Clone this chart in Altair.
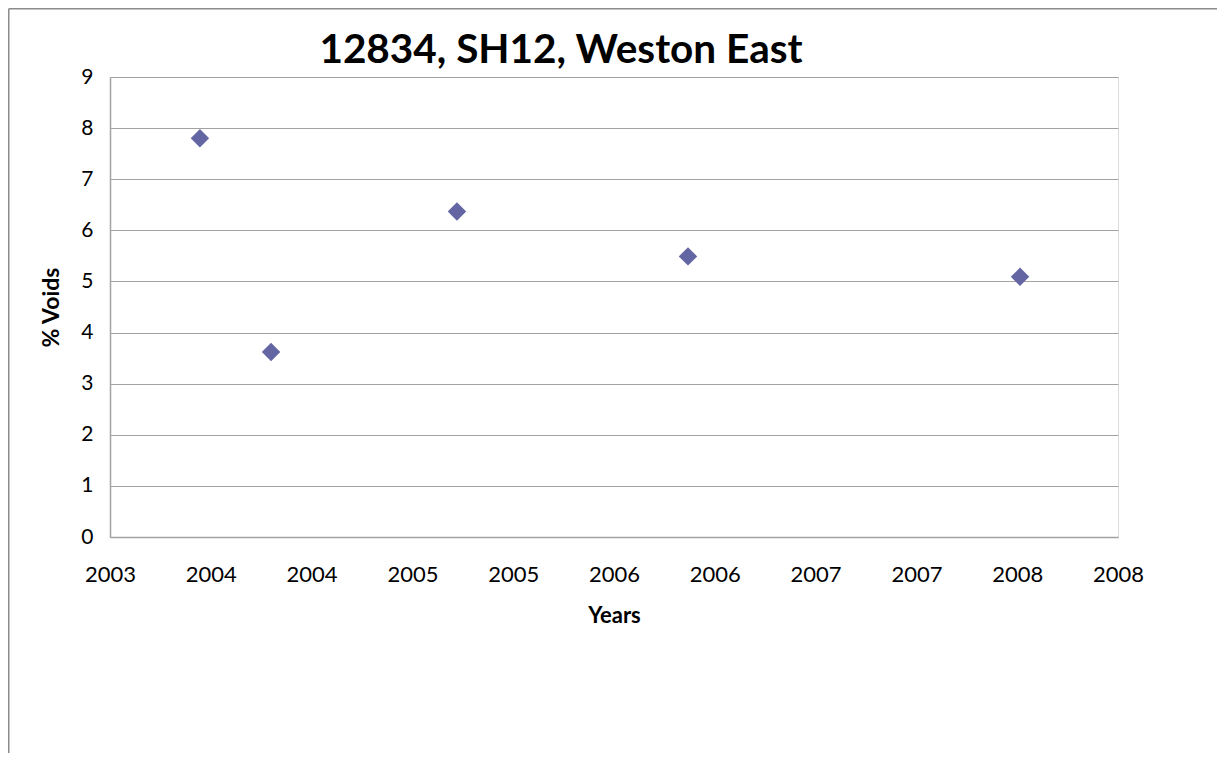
import altair as alt
import pandas as pd

# Data (decimal years, % voids)
years = [2004.146, 2004.499, 2005.421, 2006.567, 2008.214]
voids = [7.8, 3.62, 6.37, 5.49, 5.09]

# Axis tick positions (half-year steps) and their labels
x_ticks = [2003.7, 2004.2, 2004.7, 2005.2, 2005.7, 2006.2, 2006.7, 2007.2, 2007.7, 2008.2, 2008.7]
y_ticks = [0, 1, 2, 3, 4, 5, 6, 7, 8, 9]

df = pd.DataFrame({"year": years, "voids": voids})

FONT = "Lato"
GRID = "#a3a3a3"

W, H = 1008, 460
PAD = {"left": 102, "top": 69, "right": 99, "bottom": 216}

points = alt.Chart(df).mark_point(
    shape="diamond", filled=True, size=340, color="#6466a3", opacity=1
).encode(
    x=alt.X(
        "year:Q",
        scale=alt.Scale(domain=[x_ticks[0], x_ticks[-1]], nice=False, zero=False),
        axis=alt.Axis(
            values=x_ticks,
            labelExpr="'' + floor(datum.value)",
            title="Years",
            grid=False,
            ticks=False,
            domainColor=GRID,
            domainWidth=1.5,
            labelFont=FONT,
            labelFontSize=22,
            labelColor="#000000",
            labelPadding=27,
            labelFlush=False,
            labelOverlap=False,
            titleFont=FONT,
            titleFontSize=22,
            titleFontWeight="bold",
            titleColor="#000000",
            titlePadding=20,
        ),
    ),
    y=alt.Y(
        "voids:Q",
        scale=alt.Scale(domain=[0, 9], nice=False),
        axis=alt.Axis(
            values=y_ticks,
            title="% Voids",
            grid=True,
            gridColor=GRID,
            gridWidth=1,
            ticks=False,
            domainColor=GRID,
            domainWidth=1.5,
            labelFont=FONT,
            labelFontSize=21,
            labelColor="#000000",
            labelPadding=17,
            titleFont=FONT,
            titleFontSize=23,
            titleFontWeight="bold",
            titleColor="#000000",
            titlePadding=17,
        ),
    ),
)

border_data = alt.Data(values=[{"k": 0}])
top_border = alt.Chart(border_data).mark_rule(color="#8c8c8c", strokeWidth=1.5).encode(
    x=alt.value(-PAD["left"] + 0.75), x2=alt.value(W + PAD["right"]), y=alt.value(-PAD["top"] + 0.75)
)
left_border = alt.Chart(border_data).mark_rule(color="#8c8c8c", strokeWidth=1.5).encode(
    x=alt.value(-PAD["left"] + 0.75), y=alt.value(-PAD["top"] + 0.75), y2=alt.value(H + PAD["bottom"])
)

chart = alt.layer(points, top_border, left_border).properties(
    width=W,
    height=H,
    padding=PAD,
    autosize=alt.AutoSizeParams(type="none"),
    title=alt.TitleParams(
        text="12834, SH12, Weston East",
        font=FONT,
        fontSize=40.5,
        fontWeight="bold",
        color="#000000",
        anchor="middle",
        baseline="alphabetic",
        offset=-95,
        dx=-53,
    ),
).configure_view(stroke=None).configure(background="white")

chart.save("out.html", embed_options={"renderer": "svg", "actions": False})
